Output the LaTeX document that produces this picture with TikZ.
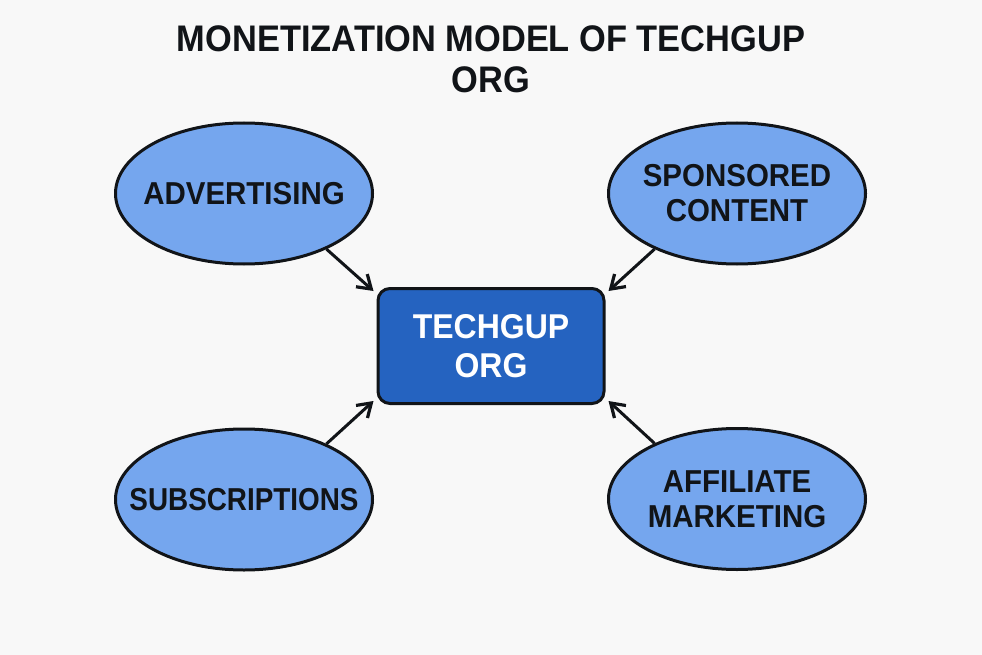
\documentclass[tikz,border=0pt]{standalone}
\usepackage{fontspec}
\setmainfont{Liberation Sans}[FakeStretch=0.93]
\usetikzlibrary{shapes.geometric,arrows.meta}
\definecolor{bgc}{HTML}{F8F8F8}
\definecolor{ell}{HTML}{75A6EE}
\definecolor{boxc}{HTML}{2563C0}
\definecolor{ink}{HTML}{111418}
\newcommand{\zw}[1]{\makebox[0pt][c]{#1}}
\tikzset{
 x=1pt,y=-1pt,
 oval/.style={ellipse,draw=ink,line width=3pt,fill=ell,minimum width=257pt,minimum height=141pt,inner sep=0pt,align=center,font=\fontsize{31.7}{35}\selectfont\bfseries,text=ink},
 hub/.style={rectangle,rounded corners=12pt,draw=ink,line width=3pt,fill=boxc,minimum width=226pt,minimum height=115pt,align=center,font=\fontsize{34.4}{39}\selectfont\bfseries,text=white},
 conn/.style={draw=ink,line width=3pt,-{Straight Barb[length=13pt,width=17pt,line width=3.2pt]}},
 ttl/.style={align=center,font=\fontsize{37}{41}\selectfont\bfseries,text=ink}
}
\begin{document}
\begin{tikzpicture}
\path[fill=bgc] (0,0) rectangle (982,655);
\useasboundingbox (0,0) rectangle (982,655);
\node[ttl] (title) at (491,59) {MONETIZATION MODEL OF TECHGUP\\ORG};
\node[hub] (h) at (491,346) {TECHGUP\\ORG};
\node[oval] (a) at (244,193.5) {\zw{ADVERTISING}};
\node[oval] (s) at (737,193.5) {\zw{SPONSORED}\\\zw{CONTENT}};
\node[oval] (u) at (244,499.5) {\zw{\scalebox{0.945}[1]{SUBSCRIPTIONS}}};
\node[oval] (f) at (737,499) {\zw{AFFILIATE}\\\zw{MARKETING}};
\coordinate (hnw) at ([shift={(-3,4)}]h.north west);
\coordinate (hne) at ([shift={(3,4)}]h.north east);
\coordinate (hsw) at ([shift={(-3,-4)}]h.south west);
\coordinate (hse) at ([shift={(3,-4)}]h.south east);
\draw[conn] (a.-34) -- (hnw);
\draw[conn] (s.214) -- (hne);
\draw[conn] (u.34) -- (hsw);
\draw[conn] (f.146) -- (hse);
\end{tikzpicture}
\end{document}
